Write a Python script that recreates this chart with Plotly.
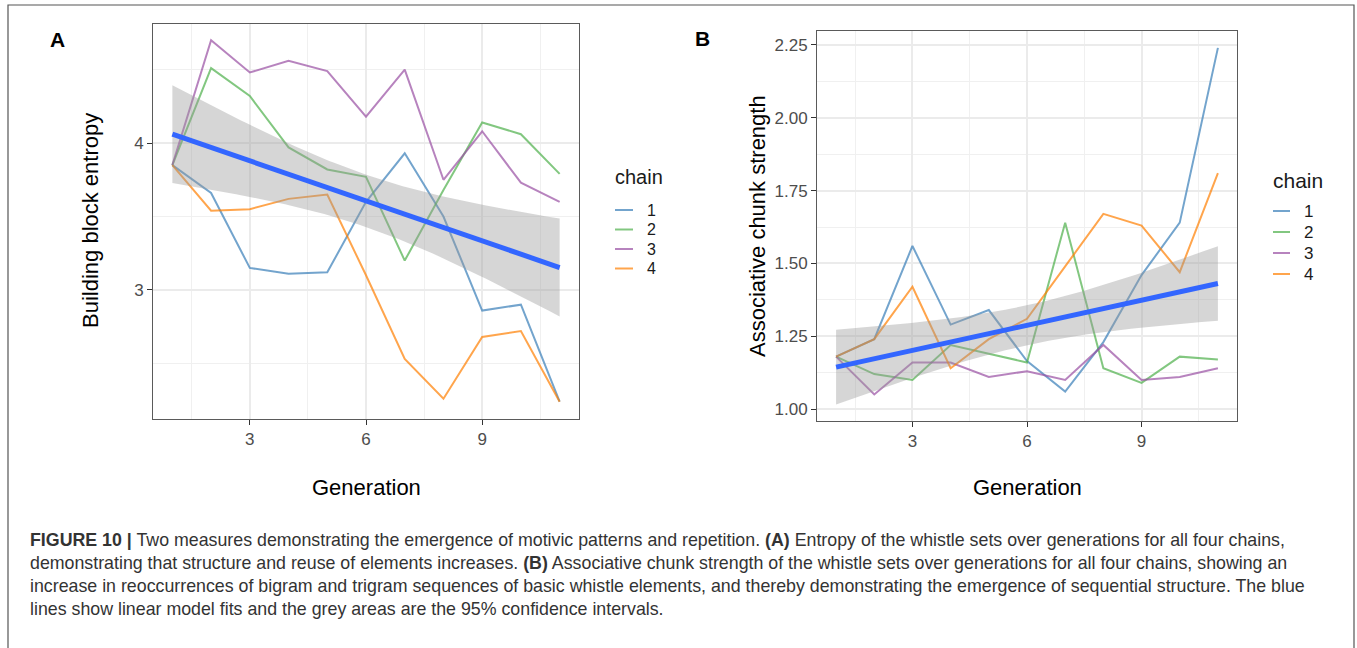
import numpy as np
import plotly.graph_objects as go

# ---------------- data ----------------
generation = list(range(1, 12))
chains = ["1", "2", "3", "4"]

entropy_chain1 = [3.85, 3.66, 3.15, 3.11, 3.12, 3.60, 3.93, 3.50, 2.86, 2.90, 2.24]
entropy_chain2 = [3.85, 4.51, 4.32, 3.97, 3.82, 3.77, 3.20, 3.68, 4.14, 4.06, 3.79]
entropy_chain3 = [3.85, 4.70, 4.48, 4.56, 4.49, 4.18, 4.50, 3.75, 4.08, 3.73, 3.60]
entropy_chain4 = [3.85, 3.54, 3.55, 3.62, 3.65, 3.10, 2.53, 2.26, 2.68, 2.72, 2.24]

chunk_chain1 = [1.18, 1.24, 1.56, 1.29, 1.34, 1.165, 1.06, 1.23, 1.46, 1.64, 2.24]
chunk_chain2 = [1.18, 1.12, 1.10, 1.22, 1.19, 1.16, 1.64, 1.14, 1.09, 1.18, 1.17]
chunk_chain3 = [1.18, 1.05, 1.16, 1.16, 1.11, 1.13, 1.10, 1.22, 1.10, 1.11, 1.14]
chunk_chain4 = [1.18, 1.24, 1.42, 1.14, 1.24, 1.31, 1.49, 1.67, 1.63, 1.47, 1.81]

x_ticks = [3, 6, 9]
entropy_ticks = [3, 4]
chunk_ticks = [1.00, 1.25, 1.50, 1.75, 2.00, 2.25]
chunk_tick_labels = ["1.00", "1.25", "1.50", "1.75", "2.00", "2.25"]

entropy_series = [entropy_chain1, entropy_chain2, entropy_chain3, entropy_chain4]
chunk_series = [chunk_chain1, chunk_chain2, chunk_chain3, chunk_chain4]

# ---------------- style ----------------
W, H = 1357, 648
chain_colors = ["rgba(55,126,184,0.7)", "rgba(77,175,74,0.7)",
                "rgba(152,78,163,0.7)", "rgba(255,127,0,0.7)"]
FONT = "Liberation Sans, Arial, Helvetica, sans-serif"


def px(x):
    return x / W


def py(y):
    return 1 - y / H


def lm_fit(series, n_grid=80, t_crit=2.018):
    xs = np.array(generation * len(series), dtype=float)
    ys = np.concatenate([np.array(s, dtype=float) for s in series])
    n = len(xs)
    slope, intercept = np.polyfit(xs, ys, 1)
    resid = ys - (slope * xs + intercept)
    s = np.sqrt(np.sum(resid ** 2) / (n - 2))
    xbar = xs.mean()
    sxx = np.sum((xs - xbar) ** 2)
    grid = np.linspace(min(generation), max(generation), n_grid)
    fit = slope * grid + intercept
    se = s * np.sqrt(1.0 / n + (grid - xbar) ** 2 / sxx)
    return grid, fit, fit - t_crit * se, fit + t_crit * se


fig = go.Figure()


def add_panel(series, xa, ya):
    for name, vals, col in zip(chains, series, chain_colors):
        fig.add_trace(go.Scatter(x=generation, y=vals, mode="lines", name=name,
                                 line=dict(color=col, width=2),
                                 xaxis=xa, yaxis=ya, showlegend=False))
    grid, fit, lo, hi = lm_fit(series)
    fig.add_trace(go.Scatter(x=grid, y=lo, mode="lines", line=dict(width=0),
                             xaxis=xa, yaxis=ya, showlegend=False, hoverinfo="skip"))
    fig.add_trace(go.Scatter(x=grid, y=hi, mode="lines", line=dict(width=0),
                             fill="tonexty", fillcolor="rgba(153,153,153,0.4)",
                             xaxis=xa, yaxis=ya, showlegend=False, hoverinfo="skip"))
    fig.add_trace(go.Scatter(x=grid, y=fit, mode="lines",
                             line=dict(color="#3366FF", width=5),
                             xaxis=xa, yaxis=ya, showlegend=False))


add_panel(entropy_series, "x", "y")
add_panel(chunk_series, "x2", "y2")

axis_common = dict(
    showline=True, linecolor="#5a5a5a", linewidth=1, mirror=True,
    ticks="outside", ticklen=5, tickwidth=1, tickcolor="#333333",
    tickfont=dict(family=FONT, size=17, color="#4d4d4d"),
    showgrid=True, gridcolor="#ebebeb", gridwidth=1.6, zeroline=False,
)

x_minor = dict(showgrid=True, gridcolor="#f0f0f0", gridwidth=1,
               tickmode="array", tickvals=[1.5, 4.5, 7.5, 10.5], ticks="")

fig.update_layout(
    width=W, height=H,
    margin=dict(l=0, r=0, t=0, b=0),
    paper_bgcolor="white", plot_bgcolor="white",
    showlegend=False,
    xaxis=dict(domain=[px(153), px(579)], range=[0.5, 11.5], anchor="y",
               tickmode="array", tickvals=x_ticks, minor=x_minor, **axis_common),
    yaxis=dict(domain=[py(419), py(24)], range=[2.122, 4.81], anchor="x",
               tickmode="array", tickvals=entropy_ticks,
               minor=dict(showgrid=True, gridcolor="#f0f0f0", gridwidth=1,
                          tickmode="array", tickvals=[2.5, 3.5, 4.5], ticks=""),
               **axis_common),
    xaxis2=dict(domain=[px(817), px(1237)], range=[0.5, 11.5], anchor="y2",
                tickmode="array", tickvals=x_ticks, minor=x_minor, **axis_common),
    yaxis2=dict(domain=[py(421), py(31)], range=[0.959, 2.298], anchor="x2",
                tickmode="array", tickvals=chunk_ticks, ticktext=chunk_tick_labels,
                minor=dict(showgrid=True, gridcolor="#f0f0f0", gridwidth=1,
                           tickmode="array",
                           tickvals=[1.125, 1.375, 1.625, 1.875, 2.125], ticks=""),
                **axis_common),
)

ann = []


def text(x, y, s, size, color="#000000", xanchor="center", angle=0, bold=False):
    if bold:
        s = "<b>" + s + "</b>"
    ann.append(dict(x=px(x), y=py(y), xref="paper", yref="paper", text=s,
                    showarrow=False, xanchor=xanchor, yanchor="middle",
                    textangle=angle, font=dict(family=FONT, size=size, color=color)))


# panel labels
text(57, 39, "A", 21, bold=True)
text(702, 38, "B", 21, bold=True)

# axis titles
text(90, 221, "Building block entropy", 22, angle=-90)
text(757, 226, "Associative chunk strength", 22, angle=-90)
text(366, 487, "Generation", 22)
text(1027, 487, "Generation", 22)

shapes = []


def legend(x_title, y_title, title_size, seg_x0, seg_x1, label_x, ys, label_size):
    text(x_title, y_title, "chain", title_size, color="#1a1a1a", xanchor="left")
    for name, col, y in zip(chains, chain_colors, ys):
        shapes.append(dict(type="line", xref="paper", yref="paper",
                           x0=px(seg_x0), x1=px(seg_x1), y0=py(y), y1=py(y),
                           line=dict(color=col, width=2)))
        text(label_x, y, name, label_size, color="#1a1a1a", xanchor="left")


legend(613, 177, 20, 615, 633, 645, [210, 229.5, 249, 268.5], 16)
legend(1271, 180, 21, 1273, 1290, 1302, [211, 232, 253, 274], 17)

# caption
cap_lines = [
    "<b>FIGURE 10 |</b> Two measures demonstrating the emergence of motivic patterns and repetition. "
    "<b>(A)</b> Entropy of the whistle sets over generations for all four chains,",
    "demonstrating that structure and reuse of elements increases. <b>(B)</b> Associative chunk "
    "strength of the whistle sets over generations for all four chains, showing an",
    "increase in reoccurrences of bigram and trigram sequences of basic whistle elements, and thereby "
    "demonstrating the emergence of sequential structure. The blue",
    "lines show linear model fits and the grey areas are the 95% confidence intervals.",
]
for i, line in enumerate(cap_lines):
    text(28, 540 + 23 * i, line, 17.8, color="#333333", xanchor="left")

# outer frame
shapes.append(dict(type="rect", xref="paper", yref="paper",
                   x0=px(8), x1=px(1354), y0=py(5), y1=py(700),
                   line=dict(color="#555555", width=1.2), fillcolor="rgba(0,0,0,0)",
                   layer="below"))

fig.update_layout(annotations=ann, shapes=shapes)
fig.write_html("out.html", config={"displayModeBar": False},
               post_script="document.body.style.margin='0px';")
